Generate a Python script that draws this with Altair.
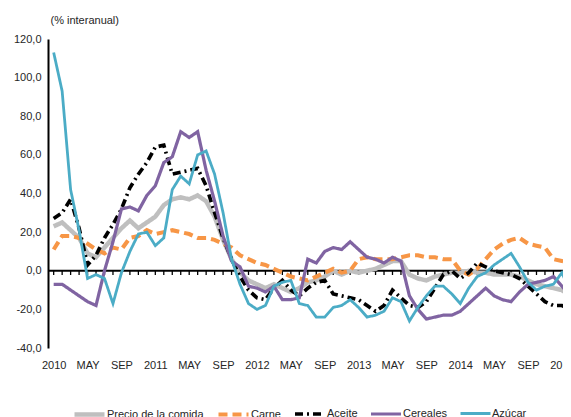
import altair as alt
import pandas as pd

series_names = ["Precio de la comida", "Carne", "Aceite", "Cereales", "Azúcar"]
series_colors = ["#BFBFBF", "#F79646", "#000000", "#8064A2", "#4BACC6"]
series_dash = [[1, 0], [9, 5], [8, 4, 2, 4], [1, 0], [1, 0]]
series_width = [4.5, 2.8, 2.8, 3.3, 3.3]

x_labels = ["2010", "MAY", "SEP", "2011", "MAY", "SEP", "2012", "MAY", "SEP",
            "2013", "MAY", "SEP", "2014", "MAY", "SEP", "2015"]
y_ticks = [-40, -20, 0, 20, 40, 60, 80, 100, 120]

precio = [23, 25, 21, 17, 9, 7, 12, 17, 22, 26,
          22, 25, 28, 34, 37, 38, 37, 39, 36, 28,
          16, 6, -1, -5, -7, -9, -7, -9, -11, -9,
          -6, -5, -3, 0, -2, 0, -1, 0, 1, 3,
          5, 5, -2, -4, -5, -3, -2, -1, -1, 0,
          -1, -1, -2, -2, -2, -3, -5, -7, -8, -9,
          -10, -13]
carne = [11, 18, 18, 17, 14, 11, 9, 12, 11, 17,
         18, 21, 19, 20, 21, 20, 19, 17, 17, 16,
         14, 12, 8, 6, 4, 3, 1, -1, -3, -4,
         -5, -3, -1, 1, -1, 0, 6, 7, 6, 6,
         6, 7, 8, 8, 7, 7, 6, 6, 0, -2,
         1, 6, 11, 14, 16, 17, 14, 13, 12, 6,
         5, 4]
aceite = [27, 30, 37, 22, 3, 8, 17, 24, 32, 43,
          50, 56, 64, 65, 50, 51, 52, 53, 44, 30,
          17, 6, -3, -10, -14, -15, -9, -5, -10, -13,
          -9, -6, -5, -12, -13, -14, -15, -18, -21, -18,
          -10, -14, -18, -19, -16, -9, -2, 0, -4, -1,
          4, 2, 0, -1, -2, -4, -8, -12, -16, -18,
          -18, -20]
cereales = [-7, -7, -10, -13, -16, -18, 0, 15, 32, 33,
            31, 39, 44, 56, 59, 72, 69, 72, 52, 36,
            18, 5, 2, -8, -9, -11, -8, -15, -15, -14,
            6, 4, 10, 12, 11, 15, 11, 7, 6, 4,
            7, 5, -13, -20, -25, -24, -23, -23, -21, -17,
            -13, -9, -13, -15, -16, -11, -7, -6, -5, -3,
            -8, -13]
azucar = [113, 93, 42, 21, -4, -2, -4, -17, -1, 10,
          19, 20, 13, 17, 42, 49, 45, 60, 62, 50,
          30, 6, -7, -17, -20, -18, -8, -6, -5, -17,
          -18, -24, -24, -19, -18, -15, -19, -24, -23, -21,
          -14, -16, -26, -19, -13, -8, -8, -12, -17, -9,
          -3, -1, 3, 6, 9, 2, -6, -10, -8, -7,
          -1, -11]

rows = []
for name, vals in zip(series_names, [precio, carne, aceite, cereales, azucar]):
    for i, v in enumerate(vals):
        rows.append({"mes": i, "serie": name, "valor": v})
df = pd.DataFrame(rows)

tick_df = pd.DataFrame({"mes": list(range(len(precio))),
                        "valor": [0] * len(precio),
                        "valor2": [-2.2] * len(precio)})
zero_df = pd.DataFrame({"valor": [0]})

FONT = "Liberation Sans"
TXT = "#262626"

x_scale = alt.Scale(domain=[-0.67, 60.13], nice=False, zero=False)
y_scale = alt.Scale(domain=[-40, 120], nice=False, zero=False)

label_arr = "[" + ",".join("'%s'" % s for s in x_labels) + "]"

x_axis = alt.Axis(values=list(range(0, 61, 4)),
                  labelExpr=label_arr + "[round(datum.value/4)]",
                  domain=False, ticks=False, grid=False, labelPadding=11,
                  labelFlush=False, title=None, labelFont=FONT,
                  labelFontSize=11, labelColor=TXT)
y_axis = alt.Axis(values=y_ticks,
                  labelExpr="(datum.value < 0 ? '-' : '') + replace(format(abs(datum.value), '.1f'), '.', ',')",
                  domain=True, domainColor="#000000", domainWidth=2,
                  ticks=False, grid=False, labelPadding=7,
                  labelFont=FONT, labelFontSize=11, labelColor=TXT,
                  title="(% interanual)", titleAngle=0, titleAlign="left",
                  titleBaseline="middle", titleX=2, titleY=-19,
                  titleFont=FONT, titleFontSize=11, titleFontWeight="normal",
                  titleColor=TXT)

legend = alt.Legend(orient="none", legendX=24, legendY=358,
                    direction="horizontal", symbolType="stroke",
                    symbolSize=900, symbolStrokeWidth=4.5,
                    labelFont=FONT, labelFontSize=11, labelColor=TXT,
                    labelOffset=0, columnPadding=6, padding=0,
                    gridAlign="none", labelLimit=0, title=None)

zero = alt.Chart(zero_df).mark_rule(color="#000000", strokeWidth=2).encode(
    y=alt.Y("valor:Q", scale=y_scale, axis=y_axis))

ticks = alt.Chart(tick_df).mark_rule(color="#000000", strokeWidth=1.3, clip=True).encode(
    x=alt.X("mes:Q", scale=x_scale, axis=x_axis),
    y=alt.Y("valor:Q", scale=y_scale, axis=y_axis),
    y2="valor2:Q")

lines = alt.Chart(df).mark_line(clip=True).encode(
    x=alt.X("mes:Q", scale=x_scale, axis=x_axis),
    y=alt.Y("valor:Q", scale=y_scale, axis=y_axis),
    color=alt.Color("serie:N", scale=alt.Scale(domain=series_names, range=series_colors),
                    legend=legend, title=None),
    strokeDash=alt.StrokeDash("serie:N", scale=alt.Scale(domain=series_names, range=series_dash),
                              legend=legend, title=None),
    strokeWidth=alt.StrokeWidth("serie:N", scale=alt.Scale(domain=series_names, range=series_width),
                                legend=None),
    order=alt.Order("mes:Q"))

chart = alt.layer(zero, ticks, lines).properties(
    width=515, height=309,
    autosize=alt.AutoSizeParams(type="none"),
    padding={"left": 40, "top": 31, "right": 0, "bottom": 69},
    background="white",
).configure_view(stroke=None)

chart.save("out.html", embed_options={"renderer": "svg", "actions": False})
